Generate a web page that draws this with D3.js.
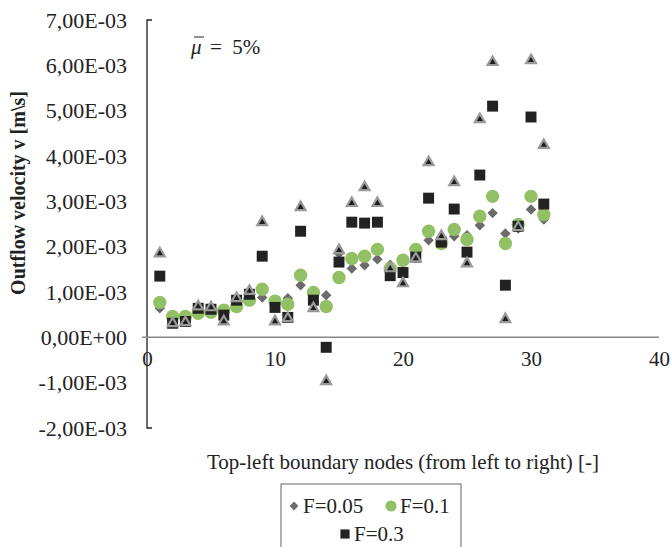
<!DOCTYPE html>
<html>
<head>
<script src="https://cdn.jsdelivr.net/npm/d3@7"></script>
<style>
  body { margin: 0; background: #fff; }
</style>
</head>
<body>
<svg id="chart"></svg>
<script>
// node index along the top-left boundary
const nodes = d3.range(1, 32);
// outflow velocity, units of 1e-3 m/s
const f005 = [0.64, 0.36, 0.40, 0.60, 0.60, 0.55, 0.75, 0.90, 0.88, 0.75, 0.86, 1.15, 0.95, 0.93, 1.85, 1.52, 1.59, 1.72, 1.60, 1.65, 1.80, 2.14, 2.15, 2.23, 2.25, 2.47, 2.74, 2.29, 2.40, 2.82, 2.60];
const f01 = [0.77, 0.46, 0.46, 0.53, 0.55, 0.60, 0.68, 0.82, 1.06, 0.80, 0.73, 1.37, 0.99, 0.68, 1.32, 1.74, 1.79, 1.94, 1.52, 1.70, 1.94, 2.34, 2.07, 2.38, 2.16, 2.67, 3.11, 2.07, 2.49, 3.11, 2.71];
const f03 = [1.35, 0.31, 0.35, 0.64, 0.62, 0.49, 0.82, 0.95, 1.79, 0.66, 0.44, 2.34, 0.82, -0.22, 1.66, 2.54, 2.52, 2.54, 1.36, 1.43, 1.77, 3.07, 2.10, 2.83, 1.88, 3.58, 5.10, 1.15, 2.45, 4.86, 2.94];
const fx = [1.85, 0.31, 0.33, 0.68, 0.66, 0.35, 0.86, 1.02, 2.54, 0.35, 0.42, 2.87, 0.64, -0.97, 1.92, 2.96, 3.31, 2.96, 1.52, 1.19, 1.74, 3.86, 2.23, 3.42, 1.63, 4.81, 6.07, 0.40, 2.43, 6.11, 4.24];
const yTicks = [-2, -1, 0, 1, 2, 3, 4, 5, 6, 7];
const xTicks = [0, 10, 20, 30, 40];

const width = 671, height = 547;
const serif = "'Liberation Serif', 'Times New Roman', serif";
const svg = d3.select("#chart").attr("width", width).attr("height", height)
  .style("font-family", serif);

const x = d3.scaleLinear().domain([0, 40]).range([147, 659]);
const y = d3.scaleLinear().domain([-2, 7]).range([428, 20]);

const fmt = v => (v < 0 ? "-" : "") + Math.abs(v).toFixed(2).replace(".", ",") + (v === 0 ? "E+00" : "E-03");

// y axis
const yAxis = svg.append("g").attr("transform", `translate(${x(0)},0)`)
  .call(d3.axisLeft(y).tickValues(yTicks).tickSize(0).tickPadding(20).tickFormat(fmt))
  .attr("font-family", serif).attr("font-size", 22);
yAxis.select(".domain").remove();
yAxis.selectAll("text").attr("fill", "#222");
svg.append("path")
  .attr("d", `M${x(0) + 5},${y(7)}H${x(0)}V${y(-2)}H${x(0) + 5}`)
  .attr("fill", "none").attr("stroke", "#222").attr("stroke-width", 1.3);

// x axis at zero
svg.append("line")
  .attr("x1", x(0) - 5).attr("x2", x(40)).attr("y1", y(0)).attr("y2", y(0))
  .attr("stroke", "#888").attr("stroke-width", 1.5);
const xAxis = svg.append("g").attr("transform", `translate(0,${y(0)})`)
  .call(d3.axisBottom(x).tickValues(xTicks).tickSize(0).tickPadding(14))
  .attr("font-family", serif).attr("font-size", 21);
xAxis.select(".domain").remove();
xAxis.selectAll("text").attr("fill", "#222");

// titles
svg.append("text")
  .attr("transform", `translate(25,193) rotate(-90)`)
  .attr("text-anchor", "middle").attr("font-size", 20).attr("font-weight", "bold").attr("fill", "#222")
  .text("Outflow velocity v [m\\s]");
svg.append("text")
  .attr("x", 403).attr("y", 469).attr("text-anchor", "middle").attr("font-size", 21).attr("fill", "#222")
  .text("Top-left boundary nodes (from left to right) [-]");

// mean friction annotation
svg.append("text").attr("x", 191).attr("y", 54).attr("font-size", 21).attr("font-style", "italic")
  .attr("fill", "#222").text("\u03bc");
svg.append("line").attr("x1", 194).attr("x2", 204).attr("y1", 37).attr("y2", 37)
  .attr("stroke", "#222").attr("stroke-width", 1);
svg.append("text").attr("x", 210).attr("y", 54).attr("font-size", 21).attr("fill", "#222")
  .attr("xml:space", "preserve").text("=  5%");

// series
const series = [
  { vals: f005, sym: d3.symbolDiamond2, size: 70, fill: "#6b6b6b", stroke: "none" },
  { vals: f01, sym: d3.symbolCircle, size: 140, fill: "#92c064", stroke: "none" },
  { vals: f03, sym: d3.symbolSquare, size: 120, fill: "#222222", stroke: "none" },
  { vals: fx, sym: d3.symbolTriangle, size: 42, fill: "#1e1e1e", stroke: "#999" }
];
series.forEach(s => {
  svg.append("g").selectAll("path")
    .data(nodes.map((n, i) => [n, s.vals[i]]))
    .join("path")
    .attr("transform", d => `translate(${x(d[0])},${y(d[1])})`)
    .attr("d", d3.symbol(s.sym, s.size))
    .attr("fill", s.fill)
    .attr("stroke", s.stroke)
    .attr("stroke-width", 2.2);
});

// legend
const lg = svg.append("g");
lg.append("rect").attr("x", 281).attr("y", 484).attr("width", 180).attr("height", 80)
  .attr("fill", "none").attr("stroke", "#666").attr("stroke-width", 1);
const legendItems = [
  { label: "F=0.05", s: series[0], lx: 294, ly: 506 },
  { label: "F=0.1", s: series[1], lx: 391, ly: 506 },
  { label: "F=0.3", s: series[2], lx: 345, ly: 534 }
];
legendItems.forEach(it => {
  lg.append("path")
    .attr("transform", `translate(${it.lx},${it.ly})`)
    .attr("d", d3.symbol(it.s.sym, it.s.size * 0.7))
    .attr("fill", it.s.fill);
  lg.append("text").attr("x", it.lx + 9).attr("y", it.ly + 7)
    .attr("font-size", 21).attr("fill", "#222").text(it.label);
});
</script>
</body>
</html>
